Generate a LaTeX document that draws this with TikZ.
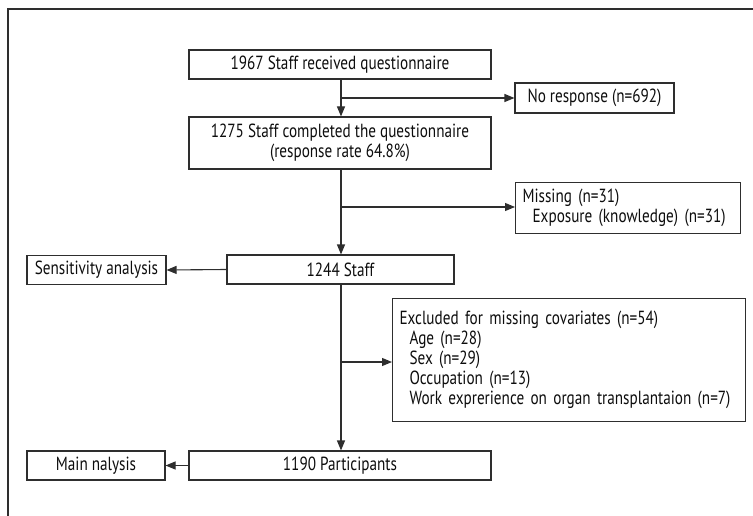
\documentclass[tikz,border=0pt]{standalone}
\usepackage{fontspec}
\setmainfont[FakeStretch=0.8]{PT Sans}
\usetikzlibrary{arrows.meta}
\definecolor{ln}{HTML}{2E2E2E}
\definecolor{tx}{HTML}{0D0D0D}
\begin{document}
\begin{tikzpicture}[x=1pt,y=-1pt,
  every node/.style={font=\fontsize{19}{20}\selectfont, text=tx},
  boxc/.style={draw=ln, line width=1.1pt, rectangle, inner sep=0pt, align=center},
  boxl/.style={draw=ln, line width=1.1pt, rectangle, inner xsep=7pt, inner ysep=0pt, align=left, anchor=north west},
  conn/.style={draw=ln, line width=1.1pt},
  arr/.style={conn, -{Triangle[length=10pt,width=8pt]}}
]
\useasboundingbox (0,0) rectangle (753,516);
\draw[ln, line width=1.2pt] (8,516) -- (8,9) -- (753,9);

% main column
\node[boxc, minimum width=302pt, minimum height=29pt] (b1) at (340,64.5) {1967 Staff received questionnaire};
\node[boxc, minimum width=302pt, minimum height=52pt] (b2) at (340,143) {1275 Staff completed the questionnaire\\(response rate 64.8\%)};
\node[boxc, minimum width=227pt, minimum height=29pt] (b3) at (340.5,269.5) {1244 Staff};
\node[boxc, minimum width=302pt, minimum height=29pt] (b4) at (340,465.5) {1190 Participants};

% side boxes
\node[boxc, minimum width=159pt, minimum height=30pt] (nr) at (594.5,98) {No response (n=692)};
\node[boxl, minimum height=51pt, text width=211pt] (miss) at (515,182) {Missing (n=31)\\\hspace*{10pt}Exposure (knowledge) (n=31)};
\node[boxl, minimum height=123pt, text width=339pt] (excl) at (392,298) {Excluded for missing covariates (n=54)\\\hspace*{10pt}Age (n=28)\\\hspace*{10pt}Sex (n=29)\\\hspace*{10pt}Occupation (n=13)\\\hspace*{10pt}Work exprerience on organ transplantaion (n=7)};
\node[boxc, minimum width=139pt, minimum height=29pt] (sens) at (96.5,270) {Sensitivity analysis};
\node[boxc, minimum width=138pt, minimum height=29pt] (mainn) at (96,465.5) {Main nalysis};

% spine
\coordinate (s1) at (341,98);
\coordinate (s2) at (341,207);
\coordinate (s3) at (341,362);
\draw[arr] (b1.south -| s1) -- (b2.north -| s1);
\draw[arr] (b2.south -| s1) -- (b3.north -| s1);
\draw[arr] (b3.south -| s1) -- (b4.north -| s1);
\draw[arr] (s1) -- (nr.west |- s1);
\draw[arr] (s2) -- (miss.west |- s2);
\draw[arr] (s3) -- (excl.west |- s3);
\draw[arr] (b3.west) -- (sens.east);
\draw[arr] (b4.west) -- (mainn.east);
\end{tikzpicture}
\end{document}
